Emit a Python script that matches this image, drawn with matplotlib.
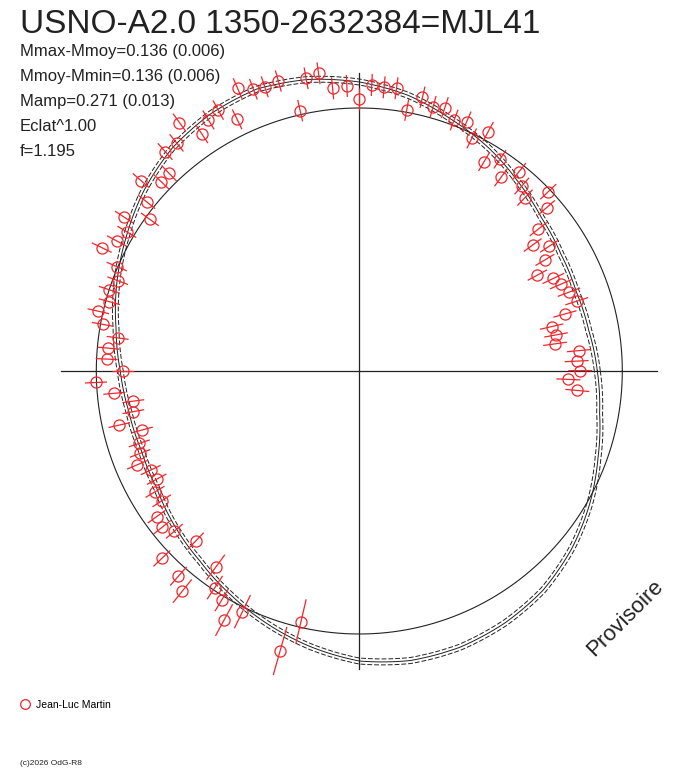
import numpy as np
import matplotlib
matplotlib.use("Agg")
import matplotlib.pyplot as plt
from matplotlib.lines import Line2D

plt.rcParams['font.family'] = ['Liberation Sans', 'DejaVu Sans']

title = "USNO-A2.0 1350-2632384=MJL41"
stats = ["Mmax-Mmoy=0.136 (0.006)", "Mmoy-Mmin=0.136 (0.006)",
         "Mamp=0.271 (0.013)", "Eclat^1.00", "f=1.195"]
observer = "Jean-Luc Martin"
credit = "(c)2026 OdG-R8"
stamp = "Provisoire"

# observations : phase angle (deg), radius, radial error
obs_angle = [0.1, 2.6, 5.3, 7.9, 10.4, 13.0, 15.5, 17.8, 20.6, 23.3,
             25.5, 28.3, 30.9, 33.3, 36.0, 38.4, 41.1, 43.5, 46.3, 48.7,
             51.3, 53.8, 56.4, 59.2, 61.7, 64.2, 66.7, 69.3, 72.0, 74.4,
             77.0, 79.7, 82.5, 85.0, 87.5, 90.0, 92.5, 95.4, 97.8, 100.3,
             102.8, 105.6, 108.4, 110.6, 113.3, 115.9, 118.4, 121.0, 123.6, 125.9,
             128.7, 131.5, 133.9, 136.3, 138.9, 141.5, 144.1, 146.8, 149.1, 151.8,
             154.4, 156.7, 159.5, 162.0, 164.5, 167.1, 169.7, 172.2, 174.8, 177.3,
             180.0, 182.5, 185.2, 187.6, 190.2, 192.7, 195.2, 198.2, 200.6, 202.9,
             205.4, 208.1, 210.6, 213.3, 215.7, 218.4, 220.9, 223.5, 226.1, 228.6,
             231.2, 233.8, 236.3, 239.0, 241.5, 244.1, 254.2, 256.9, 354.9, 357.7]
obs_radius = [221.0, 217.6, 220.6, 197.6, 200.0, 197.4, 213.4, 228.4, 224.0, 219.5,
              215.0, 202.2, 216.3, 227.4, 214.3, 228.5, 248.6, 260.5, 239.8, 246.2,
              255.4, 240.0, 254.2, 243.8, 271.9, 258.4, 271.5, 268.3, 276.9, 274.5,
              280.9, 265.3, 285.2, 284.8, 286.3, 271.7, 285.3, 283.9, 300.5, 297.5,
              267.0, 301.1, 299.5, 301.0, 307.7, 279.7, 296.6, 292.9, 284.6, 306.7,
              292.3, 293.0, 274.2, 274.1, 289.6, 271.8, 258.5, 280.8, 271.0, 275.2,
              285.6, 264.1, 257.9, 262.8, 259.4, 267.8, 260.8, 243.9, 252.0, 252.9,
              236.0, 263.6, 246.0, 228.0, 229.6, 246.0, 224.9, 231.6, 234.2, 241.1,
              230.9, 229.7, 237.3, 236.4, 249.5, 251.5, 244.6, 272.3, 235.9, 273.5,
              282.4, 243.2, 260.3, 267.2, 283.4, 267.6, 291.0, 257.4, 218.9, 209.2]
obs_err = [12, 12, 12, 12, 12, 12, 12, 12, 12, 12,
           12, 11, 11, 11, 11, 11, 11, 11, 11, 11,
           11, 11, 11, 11, 11, 11, 11, 11, 11, 11,
           11, 11, 11, 11, 11, 11, 11, 11, 11, 11,
           11, 11, 11, 11, 11, 11, 11, 11, 11, 11,
           11, 11, 11, 11, 11, 11, 11, 11, 11, 11,
           11, 11, 11, 11, 11, 11, 11, 11, 11, 11,
           11, 11, 11, 11, 11, 11, 11, 11, 11, 11,
           11, 11, 11, 11, 11, 11, 11, 11.5, 11.5, 12.5,
           15, 15.5, 14, 13, 18, 18.5, 25, 23, 12, 12]

# fitted light curve (centre of the band), every 10 deg
fit_angle = [0, 10, 20, 30, 40, 50, 60, 70, 80, 90,
             100, 110, 120, 130, 140, 150, 160, 170, 180, 190,
             200, 210, 220, 230, 240, 250, 260, 270, 280, 290,
             300, 310, 320, 330, 340, 350, 360]
fit_radius = [238, 233, 231, 233, 238, 247, 258, 268, 280, 289,
              296, 300, 297, 291, 281, 269, 258, 247, 239, 234,
              232, 234, 241, 248, 258, 269, 280, 290, 294, 294,
              291, 286, 277, 266, 254, 244, 238]
fit_band = 3.0
mean_radius = 263
axis_len = 298

red = '#f0262b'
ink = '#222222'

fig = plt.figure(figsize=(6.88, 7.68), dpi=100)

# polar axes centred on pixel (359, 371), 1 unit = 1 px
R = 330
cx, cy = 359.3, 768 - 371
ax = fig.add_axes([(cx - R) / 688, (cy - R) / 768, 2 * R / 688, 2 * R / 768],
                  projection='polar')
ax.set_rlim(0, R)
ax.set_axis_off()

# cross
for a in [0, 90, 180, 270]:
    ax.plot([np.radians(a)] * 2, [0, axis_len], color=ink, lw=0.9)

# mean circle
circ = np.linspace(0, 2 * np.pi, 721)
ax.plot(circ, np.full_like(circ, mean_radius), color=ink, lw=0.8)

# fit + band, segments follow the polar grid (drawn as arcs/spirals)
fa = np.radians(fit_angle)
fr = np.array(fit_radius, dtype=float)
fit_lines = []
fit_lines += ax.plot(fa, fr, color=ink, lw=0.7)
fit_lines += ax.plot(fa, fr - fit_band, color=ink, lw=0.7, ls=(0, (5, 2)))
fit_lines += ax.plot(fa, fr + fit_band, color=ink, lw=0.7, ls=(0, (5, 2)))
for ln in fit_lines:
    ln.get_path()._interpolation_steps = 30

# observations with radial error bars
ax.errorbar(np.radians(obs_angle), obs_radius, yerr=obs_err, fmt='o',
            ms=8, mfc='none', mec=red, mew=0.9, ecolor=red, elinewidth=0.9,
            capsize=0, zorder=3)

# texts
fig.text(20 / 688, 1 - 33 / 768, title, fontsize=24, color=ink, va='baseline')
for i, s in enumerate(stats):
    fig.text(20 / 688, 1 - (56 + 25 * i) / 768, s, fontsize=12,
             color=ink, va='baseline')

fig.text(625 / 688, 1 - 618 / 768, stamp, fontsize=16, color=ink,
         rotation=45, ha='center', va='center')

handle = Line2D([], [], ls='none', marker='o', ms=7, mfc='none', mec=red, mew=0.9)
fig.legend([handle], [observer], loc='center left',
           bbox_to_anchor=(10 / 688, 1 - 705 / 768), frameon=False,
           fontsize=7.5, handlelength=1.0, handletextpad=0.6)
fig.text(20 / 688, 1 - 765 / 768, credit, fontsize=6, color=ink, va='baseline')

fig.savefig('out.png', dpi=100)
